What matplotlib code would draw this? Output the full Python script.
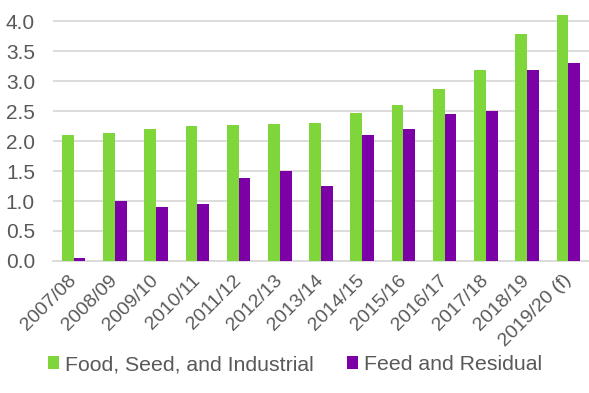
import matplotlib.pyplot as plt
import numpy as np

# anos comerciais e valores
anos = ["2007/08", "2008/09", "2009/10", "2010/11", "2011/12", "2012/13", "2013/14",
        "2014/15", "2015/16", "2016/17", "2017/18", "2018/19", "2019/20 (f)"]
food_seed = [2.10, 2.14, 2.20, 2.25, 2.27, 2.29, 2.30, 2.47, 2.60, 2.87, 3.19, 3.79, 4.10]
feed_residual = [0.05, 1.00, 0.90, 0.95, 1.38, 1.50, 1.25, 2.10, 2.20, 2.45, 2.50, 3.19, 3.30]

verde = "#7ED63A"
roxo = "#7B00A5"
cinza = "#595959"

plt.rcParams["font.family"] = ["Liberation Sans", "DejaVu Sans"]

fig = plt.figure(figsize=(5.89, 3.93), dpi=100)
ax = fig.add_axes([0.09, 0.336, 0.91, 0.633])

x = np.arange(len(anos))
w = 0.285
ax.bar(x - w / 2, food_seed, w, color=verde, label="Food, Seed, and Industrial", zorder=3)
ax.bar(x + w / 2, feed_residual, w, color=roxo, label="Feed and Residual", zorder=3)

ax.set_xlim(-0.5, len(anos) - 0.5)
ax.set_ylim(0, 4.15)
ax.set_yticks(np.arange(0, 4.01, 0.5))
ax.set_yticklabels([f"{v:.1f}" for v in np.arange(0, 4.01, 0.5)])
ax.yaxis.grid(True, color="#D9D9D9", linewidth=1.3, zorder=0)
ax.set_axisbelow(True)

for s in ["top", "right", "left"]:
    ax.spines[s].set_visible(False)
ax.spines["bottom"].set_color("#D9D9D9")
ax.spines["bottom"].set_linewidth(1.3)

ax.tick_params(axis="y", length=0, labelsize=15, labelcolor=cinza, pad=13)
ax.tick_params(axis="x", length=0, labelsize=14, labelcolor=cinza, pad=12)
ax.set_xticks(x)
ax.set_xticklabels(anos, rotation=45, ha="right", va="center", rotation_mode="anchor")

fig.legend(loc="center", bbox_to_anchor=(0.501, 0.072), ncol=2, frameon=False,
           fontsize=15.3, handlelength=0.52, handleheight=0.52, handletextpad=0.25,
           columnspacing=1.6, labelcolor=cinza)

fig.savefig("out.png", dpi=100)
